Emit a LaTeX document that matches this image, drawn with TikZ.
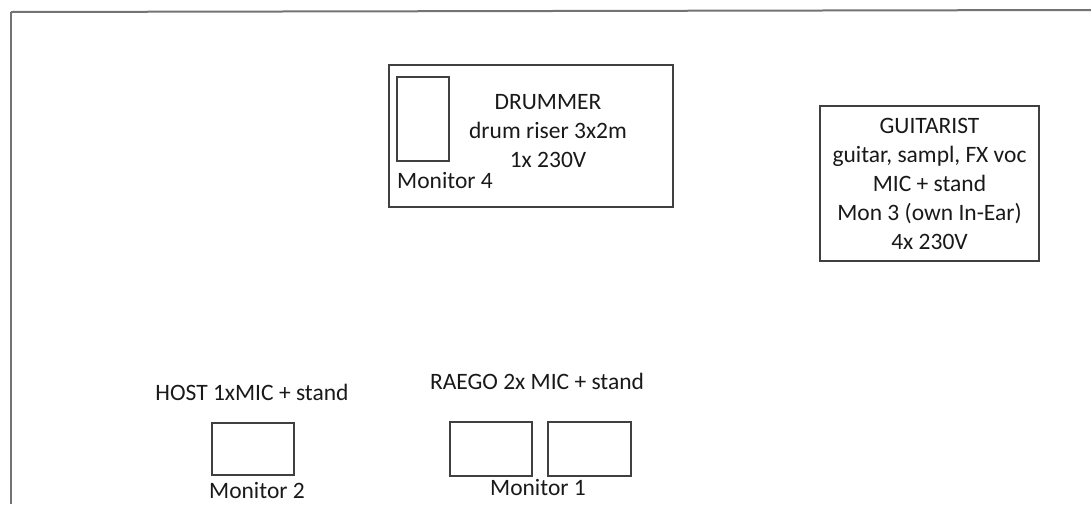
\documentclass[tikz,border=0pt]{standalone}
\usepackage{fontspec}
\setmainfont{Carlito}
\begin{document}
\begin{tikzpicture}[x=1pt,y=-1pt,
  frame/.style={draw=black!55,line width=2pt},
  boxline/.style={draw=black!75,line width=1.3pt},
  lbl/.style={inner sep=0pt,font=\fontsize{23.5}{29}\selectfont,text=black!90,align=center},
  lbl1/.style={inner sep=0pt,font=\fontsize{23.5}{24}\selectfont,text=black!90}]
\useasboundingbox (0,0) rectangle (1091,504);
\draw[frame] (11,12) -- (11,504);
\draw[frame] (11,12) -- (1091,10);
% drummer
\node[boxline,minimum width=284pt,minimum height=142pt,inner sep=0pt] (drumbox) at (531,136) {};
\node[boxline,minimum width=52pt,minimum height=84pt,inner sep=0pt] (mon4) at (423,119) {};
\node[lbl1,anchor=north west] (mon4t) at (397,172) {Monitor 4};
\node[lbl] (drum) at (548,131) {DRUMMER\\drum riser 3x2m\\1x 230V};
% guitarist
\node[boxline,lbl,minimum width=219pt,minimum height=155pt] (guit) at (929.5,183.5)
  {GUITARIST\\guitar, sampl, FX voc\\MIC + stand\\Mon 3 (own In-Ear)\\4x 230V};
% host
\node[lbl1] (host) at (252,392) {HOST 1xMIC + stand};
\node[boxline,minimum width=82pt,minimum height=52pt,inner sep=0pt] (mon2) at (253,449) {};
\node[lbl1,anchor=base] (mon2t) at (257,498) {Monitor 2};
% raego
\node[lbl1] (raego) at (537,381) {RAEGO 2x MIC + stand};
\node[boxline,minimum width=82pt,minimum height=54pt,inner sep=0pt] (mon1a) at (491,449) {};
\node[boxline,minimum width=83pt,minimum height=54pt,inner sep=0pt] (mon1b) at (589.5,449) {};
\node[lbl1,anchor=base] (mon1t) at (538,495) {Monitor 1};
\end{tikzpicture}
\end{document}
